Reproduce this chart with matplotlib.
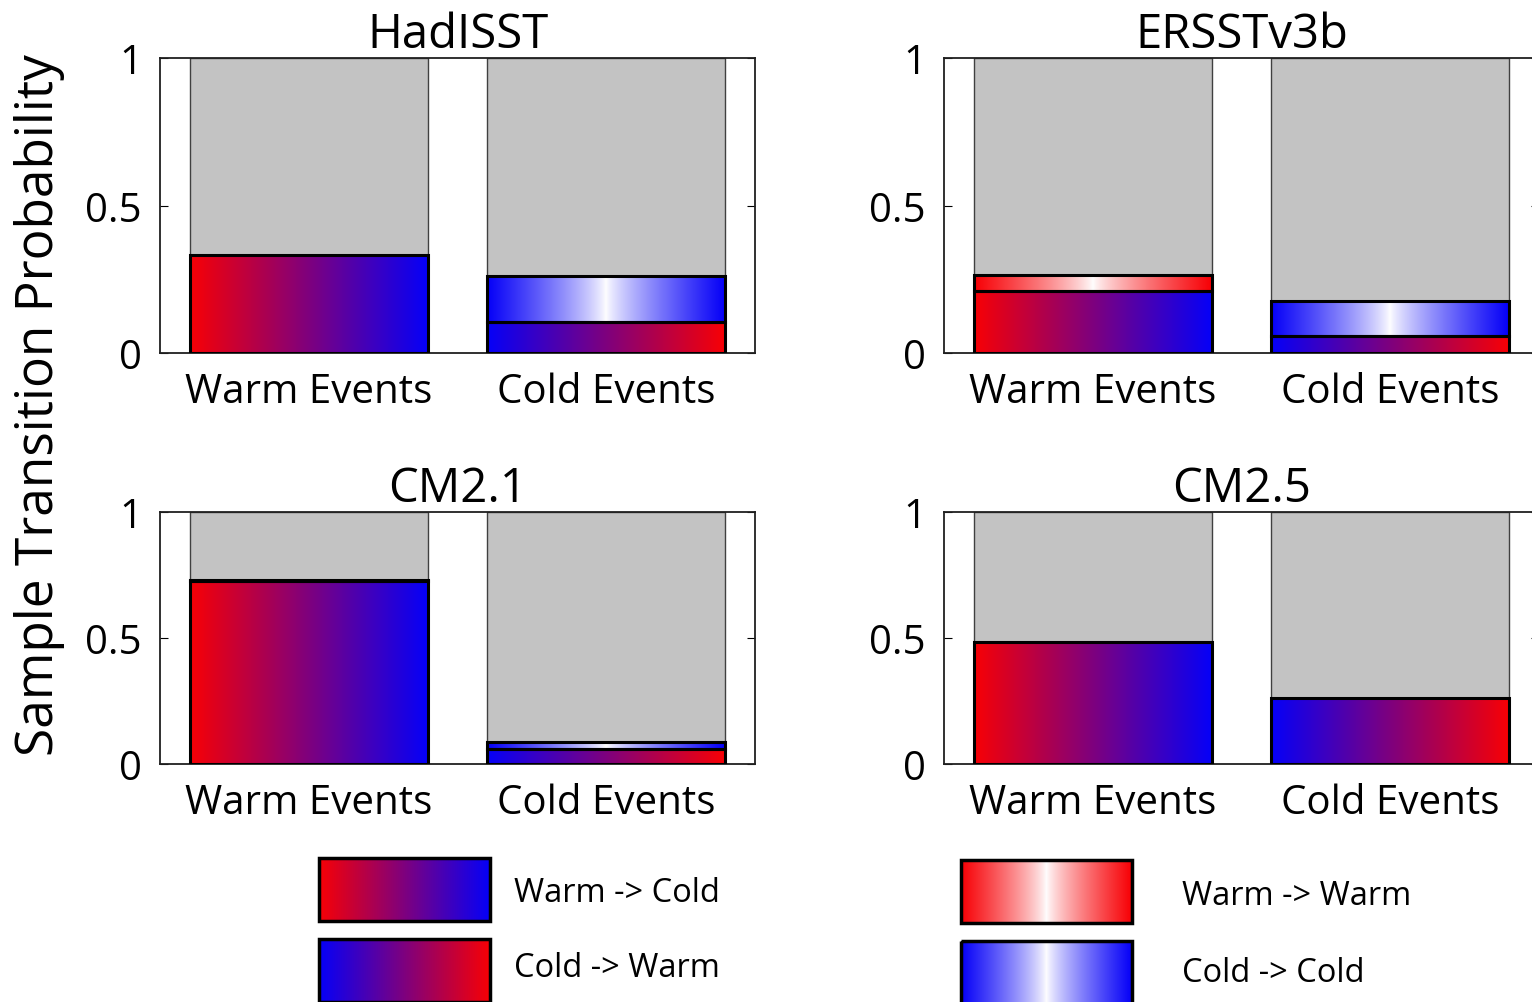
import numpy as np
import matplotlib
matplotlib.use('Agg')
import matplotlib.pyplot as plt

plt.rcParams['font.family'] = ['Open Sans', 'DejaVu Sans']

# data
datasets = ['HadISST', 'ERSSTv3b', 'CM2.1', 'CM2.5']
categories = ['Warm Events', 'Cold Events']
warm_to_cold = [0.332, 0.210, 0.725, 0.485]
warm_to_warm = [0.0, 0.054, 0.006, 0.0]
cold_to_warm = [0.105, 0.057, 0.060, 0.262]
cold_to_cold = [0.156, 0.119, 0.028, 0.0]
legend_labels = ['Warm -> Cold', 'Cold -> Warm', 'Warm -> Warm', 'Cold -> Cold']

RED = np.array([0.97, 0.0, 0.02])
BLUE = np.array([0.02, 0.0, 0.97])
WHITE = np.array([1.0, 1.0, 1.0])
GRAY = '#c3c3c3'


def ramp(c0, c1, n=256):
    t = np.linspace(0, 1, n)[:, None]
    return ((1 - t) * c0 + t * c1)[None, :, :]


def centre_white(c, n=256, p=0.8):
    s = np.abs(np.linspace(-1, 1, n))[:, None] ** p
    return ((1 - s) * WHITE + s * c)[None, :, :]


grads = {
    'wc': ramp(RED, BLUE),
    'cw': ramp(BLUE, RED),
    'ww': centre_white(RED),
    'cc': centre_white(BLUE),
}

W, H = 1532, 1003
fig = plt.figure(figsize=(W / 100, H / 100), dpi=100)

# axes boxes in pixel terms: left, top, width, height
boxes = [(160, 59, 595, 295), (944, 59, 595, 295),
         (160, 513, 595, 252), (944, 513, 595, 252)]

width = 0.8
x = np.arange(1, len(categories) + 1)


def seg(ax, xc, bottom, height, g):
    if height <= 0:
        return
    ax.imshow(g, extent=[xc - width / 2, xc + width / 2, bottom, bottom + height],
              aspect='auto', interpolation='bilinear', zorder=2)
    ax.bar(xc, height, width, bottom=bottom, fill=False, edgecolor='black',
           linewidth=2.2, zorder=3)


for i, name in enumerate(datasets):
    l, t, w, h = boxes[i]
    ax = fig.add_axes([l / W, 1 - (t + h) / H, w / W, h / H])
    ax.bar(x, [1, 1], width, color=GRAY, edgecolor='#404040', linewidth=1, zorder=1)
    # warm events
    seg(ax, x[0], 0, warm_to_cold[i], grads['wc'])
    seg(ax, x[0], warm_to_cold[i], warm_to_warm[i], grads['ww'])
    # cold events
    seg(ax, x[1], 0, cold_to_warm[i], grads['cw'])
    seg(ax, x[1], cold_to_warm[i], cold_to_cold[i], grads['cc'])

    ax.set_xlim(0.5, 2.5)
    ax.set_ylim(0, 1)
    ax.set_yticks([0, 0.5, 1])
    ax.set_yticklabels(['0', '0.5', '1'])
    ax.set_xticks(x)
    ax.set_xticklabels(categories)
    ax.tick_params(axis='x', length=0, pad=13, labelsize=29)
    ax.tick_params(axis='y', direction='in', length=6, right=True, pad=13, labelsize=29)
    for sp in ax.spines.values():
        sp.set_linewidth(1.3)
        sp.set_color('#202020')
    ax.set_title(name, fontsize=34, pad=3)

fig.text(40 / W, 1 - 405 / H, 'Sample Transition Probability', rotation=90,
         ha='center', va='center', fontsize=37)

# legend drawn in a figure-wide pixel axes
lax = fig.add_axes([0, 0, 1, 1])
lax.set_xlim(0, W)
lax.set_ylim(H, 0)
lax.axis('off')
leg_boxes = [(319, 859, 'wc', 514, 894), (319, 940, 'cw', 514, 969),
             (961, 861, 'ww', 1182, 897), (961, 942, 'cc', 1182, 974)]
for (bx, by, key, tx, ty), lab in zip(leg_boxes, legend_labels):
    lax.imshow(grads[key], extent=[bx, bx + 171, by + 63, by], aspect='auto',
               interpolation='bilinear', zorder=2)
    lax.add_patch(plt.Rectangle((bx, by), 171, 63, fill=False, edgecolor='black',
                                linewidth=2.5, zorder=3))
    lax.text(tx, ty, lab, fontsize=23.5, va='center', ha='left')
lax.set_xlim(0, W)
lax.set_ylim(H, 0)

fig.savefig('out.png', dpi=100)
